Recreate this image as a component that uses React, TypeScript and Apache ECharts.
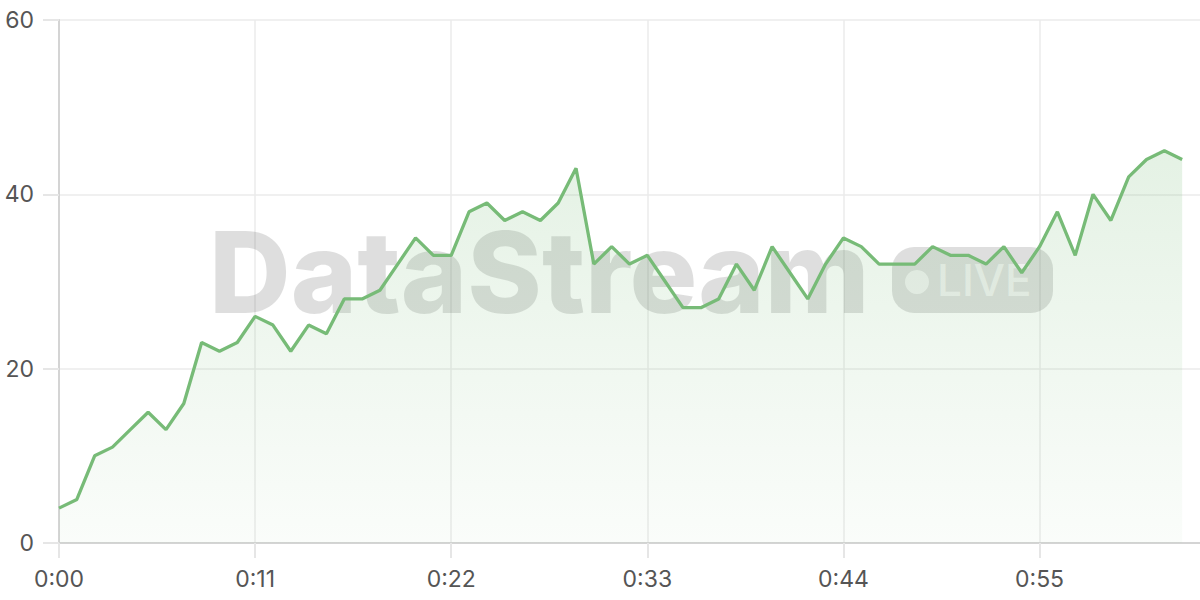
import {useEffect, useRef} from 'react';
import * as echarts from 'echarts';

// one reading per second
const timeLabels = [
    '0:00', '0:01', '0:02', '0:03', '0:04', '0:05', '0:06', '0:07', '0:08', '0:09',
    '0:10', '0:11', '0:12', '0:13', '0:14', '0:15', '0:16', '0:17', '0:18', '0:19',
    '0:20', '0:21', '0:22', '0:23', '0:24', '0:25', '0:26', '0:27', '0:28', '0:29',
    '0:30', '0:31', '0:32', '0:33', '0:34', '0:35', '0:36', '0:37', '0:38', '0:39',
    '0:40', '0:41', '0:42', '0:43', '0:44', '0:45', '0:46', '0:47', '0:48', '0:49',
    '0:50', '0:51', '0:52', '0:53', '0:54', '0:55', '0:56', '0:57', '0:58', '0:59',
    '1:00', '1:01', '1:02', '1:03', '1:04',
];

const streamValues = [
    4, 5, 10, 11, 13, 15, 13, 16, 23, 22,
    23, 26, 25, 22, 25, 24, 28, 28, 29, 32,
    35, 33, 33, 38, 39, 37, 38, 37, 39, 43,
    32, 34, 32, 33, 30, 27, 27, 28, 32, 29,
    34, 31, 28, 32, 35, 34, 32, 32, 32, 34,
    33, 33, 32, 34, 31, 34, 38, 33, 40, 37,
    42, 44, 45, 44,
];

const yTicks = {min: 0, max: 60, step: 20};

const FONT = 'Inter, "Liberation Sans", Arial, sans-serif';
const GREEN = '#77bb77';
const SHADE = 'rgba(0,0,0,0.13)';
const KNOCK = 'rgba(255,255,255,0.62)';

const App = () => {
    const chartRef = useRef<HTMLDivElement>(null);

    useEffect(() => {
        document.body.style.margin = '0';
        const myChart = echarts.init(chartRef.current!, null, {renderer: 'svg'});

        myChart.setOption({
            animation: false,
            textStyle: {fontFamily: FONT},
            grid: {left: 59, right: 0, top: 20, bottom: 57},
            xAxis: {
                type: 'category',
                boundaryGap: false,
                data: timeLabels,
                axisLine: {lineStyle: {color: '#d4d4d4', width: 2}},
                axisTick: {show: true, length: 15, interval: 10, lineStyle: {color: '#e6e6e6', width: 2}},
                axisLabel: {interval: 10, color: '#555', fontSize: 23, margin: 24},
                splitLine: {show: true, interval: 10, lineStyle: {color: '#ebebeb', width: 1.5}},
            },
            yAxis: {
                type: 'value',
                min: yTicks.min,
                max: yTicks.max,
                interval: yTicks.step,
                axisLine: {show: true, lineStyle: {color: '#d4d4d4', width: 2}},
                axisTick: {show: true, length: 16, lineStyle: {color: '#e6e6e6', width: 2}},
                axisLabel: {color: '#555', fontSize: 23, margin: 25},
                splitLine: {lineStyle: {color: '#ebebeb', width: 1.5}},
            },
            graphic: [
                {
                    type: 'text',
                    z: 1,
                    silent: true,
                    x: 209,
                    y: 272,
                    style: {
                        text: 'DataStream',
                        fontSize: 113,
                        fontWeight: 800,
                        fontFamily: FONT,
                        fill: SHADE,
                        verticalAlign: 'middle',
                    },
                },
                {
                    type: 'rect',
                    z: 1,
                    silent: true,
                    shape: {x: 892, y: 247, width: 161, height: 66, r: 22},
                    style: {fill: SHADE},
                },
                {
                    type: 'circle',
                    z: 1,
                    silent: true,
                    shape: {cx: 917, cy: 282, r: 12},
                    style: {fill: KNOCK},
                },
                {
                    type: 'text',
                    z: 1,
                    silent: true,
                    x: 937,
                    y: 280,
                    style: {
                        text: 'LIVE',
                        fontSize: 44,
                        fontWeight: 500,
                        fontFamily: FONT,
                        fill: KNOCK,
                        verticalAlign: 'middle',
                    },
                },
            ],
            series: [
                {
                    type: 'line',
                    data: streamValues,
                    showSymbol: false,
                    lineStyle: {color: GREEN, width: 3.3},
                    itemStyle: {color: GREEN},
                    areaStyle: {
                        color: new echarts.graphic.LinearGradient(0, 0, 0, 1, [
                            {offset: 0, color: 'rgba(119,187,119,0.28)'},
                            {offset: 1, color: 'rgba(119,187,119,0.05)'},
                        ]),
                    },
                    z: 2,
                },
            ],
        });

        return () => {
            myChart.dispose();
        };
    }, []);

    return (
        <div
            ref={chartRef}
            style={{position: 'fixed', left: 0, top: 0, width: '1200px', height: '600px', background: '#fff'}}
        />
    );
};

export default App;
